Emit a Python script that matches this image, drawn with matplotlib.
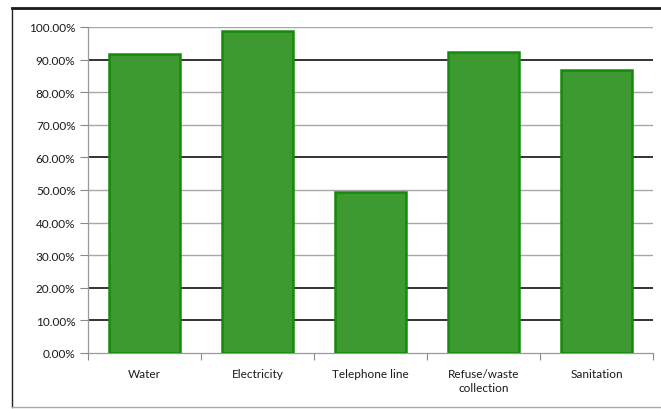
import matplotlib
matplotlib.use("Agg")
import matplotlib.pyplot as plt
from matplotlib.lines import Line2D
from matplotlib.ticker import FuncFormatter, FixedLocator

categories = ["Water", "Electricity", "Telephone line", "Refuse/waste\ncollection", "Sanitation"]
values = [91.7, 98.8, 49.5, 92.3, 86.8]
yticks = [0, 10, 20, 30, 40, 50, 60, 70, 80, 90, 100]

fig = plt.figure(figsize=(6.61, 4.10), dpi=100)
fig.patch.set_facecolor("white")
ax = fig.add_axes([88 / 661, 1 - 354 / 410, (653 - 88) / 661, (354 - 28) / 410])

font = "Lato"

x = list(range(len(categories)))
ax.bar(x, values, width=0.62, color="#3d9a30", edgecolor="#168a0c", linewidth=1.8, zorder=3)

ax.set_xlim(-0.5, len(categories) - 0.5)
ax.set_ylim(0, 100)

# horizontal gridlines
dark = {10, 20, 60, 90}
for t in yticks[1:]:
    ax.axhline(t, color="#111111" if t in dark else "#a8a8a8",
               linewidth=1.2 if t in dark else 1.0, zorder=1)

ax.yaxis.set_major_locator(FixedLocator(yticks))
ax.yaxis.set_major_formatter(FuncFormatter(lambda v, p: f"{v:.2f}%"))
ax.tick_params(axis="y", length=6, width=0.8, color="#888888", pad=3,
               labelsize=8.5, labelcolor="#1a1a1a")
for lab in ax.get_yticklabels():
    lab.set_fontfamily(font)

ax.set_xticks(x)
ax.set_xticklabels(categories, fontsize=8.5, color="#1a1a1a", fontfamily=font,
                   linespacing=1.35)
ax.tick_params(axis="x", length=0, pad=11)
ax.set_xticks([i - 0.5 for i in range(len(categories) + 1)], minor=True)
ax.tick_params(axis="x", which="minor", length=5, width=0.8, color="#888888")

for s in ["top", "right"]:
    ax.spines[s].set_visible(False)
ax.spines["left"].set_color("#999999")
ax.spines["bottom"].set_color("#999999")
ax.spines["left"].set_linewidth(0.9)
ax.spines["bottom"].set_linewidth(0.9)

# chart area border
fig.add_artist(Line2D([12 / 661, 1.0], [1 - 9 / 410, 1 - 9 / 410], color="#1a1a1a", linewidth=2.0))
fig.add_artist(Line2D([12 / 661, 12 / 661], [1 - 9 / 410, 1 - 408 / 410], color="#222222", linewidth=1.0))
fig.add_artist(Line2D([12 / 661, 1.0], [1 - 408 / 410, 1 - 408 / 410], color="#aaaaaa", linewidth=1.0))

fig.savefig("out.png", dpi=100, facecolor="white")
